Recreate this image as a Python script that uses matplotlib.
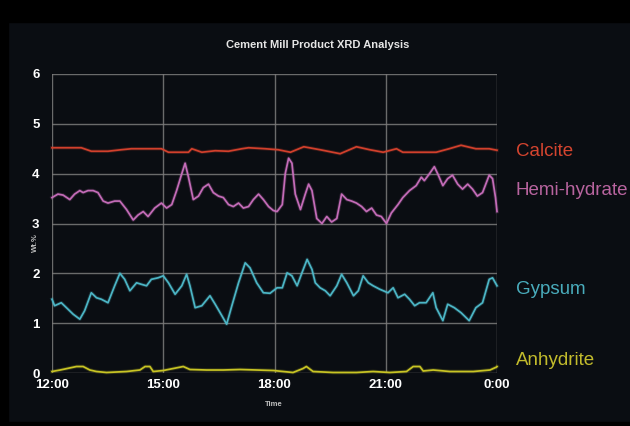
import matplotlib
matplotlib.use("Agg")
import matplotlib.pyplot as plt
from matplotlib.patches import Rectangle

# -----------------------------
# Data (hours after 12:00, wt.%)
# -----------------------------
calcite_h = [0, 0.79, 1.06, 1.51, 1.87, 2.14, 2.95, 3.14, 3.68, 3.77, 4.04, 4.40, 4.76,
             5.12, 5.30, 5.75, 6.10, 6.43, 6.79, 7.23, 7.77, 8.21, 8.57, 8.93, 9.29,
             9.46, 9.91, 10.36, 10.71, 11.03, 11.43, 11.79, 12.0]
calcite = [4.52, 4.52, 4.45, 4.45, 4.48, 4.50, 4.50, 4.43, 4.43, 4.50, 4.43, 4.46, 4.45,
           4.50, 4.52, 4.50, 4.48, 4.43, 4.54, 4.48, 4.40, 4.54, 4.48, 4.43, 4.50,
           4.43, 4.43, 4.43, 4.50, 4.57, 4.50, 4.50, 4.47]

hemi_h = [0, 0.16, 0.30, 0.48, 0.61, 0.75, 0.84, 0.97, 1.11, 1.24, 1.38, 1.51, 1.69, 1.83,
          2.01, 2.19, 2.32, 2.46, 2.59, 2.77, 2.95, 3.09, 3.23, 3.36, 3.50, 3.59, 3.68,
          3.81, 3.95, 4.08, 4.22, 4.35, 4.49, 4.62, 4.76, 4.89, 5.03, 5.16, 5.30, 5.43,
          5.57, 5.70, 5.84, 5.97, 6.07, 6.21, 6.29, 6.38, 6.47, 6.56, 6.70, 6.83, 6.92,
          7.01, 7.14, 7.28, 7.41, 7.54, 7.68, 7.81, 7.95, 8.08, 8.21, 8.35, 8.48, 8.62,
          8.75, 8.88, 9.02, 9.15, 9.33, 9.46, 9.64, 9.82, 9.96, 10.04, 10.18, 10.31,
          10.40, 10.54, 10.67, 10.80, 10.94, 11.07, 11.21, 11.34, 11.47, 11.61, 11.79,
          11.88, 11.96, 12.0]
hemi = [3.52, 3.59, 3.57, 3.48, 3.59, 3.66, 3.62, 3.66, 3.66, 3.62, 3.45, 3.41, 3.45, 3.45,
        3.28, 3.07, 3.17, 3.24, 3.14, 3.31, 3.41, 3.31, 3.38, 3.66, 4.00, 4.21, 3.93,
        3.48, 3.55, 3.72, 3.79, 3.62, 3.55, 3.52, 3.38, 3.34, 3.41, 3.31, 3.34, 3.48,
        3.59, 3.48, 3.34, 3.26, 3.24, 3.38, 4.00, 4.31, 4.21, 3.59, 3.28, 3.59, 3.79,
        3.66, 3.10, 3.00, 3.14, 3.03, 3.10, 3.59, 3.48, 3.45, 3.41, 3.34, 3.24, 3.31,
        3.17, 3.14, 3.00, 3.21, 3.38, 3.52, 3.66, 3.76, 3.93, 3.86, 4.00, 4.14,
        4.00, 3.76, 3.90, 3.97, 3.79, 3.69, 3.79, 3.69, 3.55, 3.62, 3.97,
        3.90, 3.52, 3.24]

gypsum_h = [0, 0.07, 0.25, 0.39, 0.57, 0.75, 0.88, 1.06, 1.20, 1.33, 1.51, 1.69, 1.83,
            1.96, 2.10, 2.28, 2.41, 2.55, 2.68, 2.86, 3.00, 3.14, 3.32, 3.50, 3.63, 3.72,
            3.86, 4.04, 4.26, 4.40, 4.58, 4.71, 4.85, 5.03, 5.21, 5.34, 5.52, 5.70, 5.88,
            6.07, 6.21, 6.34, 6.47, 6.61, 6.74, 6.88, 7.01, 7.10, 7.23, 7.37, 7.50, 7.68,
            7.81, 7.95, 8.13, 8.26, 8.39, 8.53, 8.66, 8.84, 9.06, 9.20, 9.33, 9.51, 9.64,
            9.78, 9.91, 10.09, 10.27, 10.36, 10.54, 10.67, 10.85, 11.03, 11.25, 11.43,
            11.61, 11.79, 11.88, 12.0]
gypsum = [1.48, 1.35, 1.41, 1.31, 1.18, 1.08, 1.25, 1.61, 1.51, 1.48, 1.41, 1.75, 2.00,
          1.88, 1.65, 1.81, 1.78, 1.75, 1.88, 1.91, 1.95, 1.81, 1.58, 1.75, 1.98, 1.75,
          1.31, 1.35, 1.55, 1.38, 1.15, 0.98, 1.35, 1.81, 2.21, 2.11, 1.81, 1.61, 1.60,
          1.71, 1.71, 2.01, 1.95, 1.75, 2.01, 2.28, 2.08, 1.81, 1.71, 1.65, 1.55, 1.75,
          1.98, 1.81, 1.55, 1.65, 1.95, 1.81, 1.75, 1.68, 1.61, 1.71, 1.51, 1.58, 1.48,
          1.35, 1.41, 1.41, 1.61, 1.31, 1.05, 1.38, 1.31, 1.21, 1.05, 1.31,
          1.41, 1.88, 1.91, 1.75]

anhydrite_h = [0, 0.22, 0.66, 0.84, 1.02, 1.20, 1.47, 2.01, 2.37, 2.51, 2.64, 2.73, 3.00,
               3.27, 3.54, 3.72, 4.17, 4.62, 5.07, 5.52, 5.97, 6.50, 6.77, 6.86, 7.04,
               7.58, 8.21, 8.66, 9.11, 9.56, 9.74, 9.92, 10.01, 10.28, 10.73, 11.36,
               11.81, 11.99, 12.0]
anhydrite = [0.03, 0.06, 0.13, 0.13, 0.06, 0.03, 0.01, 0.03, 0.06, 0.13, 0.13, 0.03, 0.05,
             0.09, 0.13, 0.07, 0.06, 0.06, 0.07, 0.06, 0.05, 0.01, 0.09, 0.13, 0.03,
             0.01, 0.01, 0.03, 0.01, 0.03, 0.13, 0.13, 0.04, 0.06, 0.03, 0.03,
             0.06, 0.12, 0.13]

x_ticks = [0, 3, 6, 9, 12]
x_labels = ["12:00", "15:00", "18:00", "21:00", "0:00"]
y_ticks = [0, 1, 2, 3, 4, 5, 6]

names = ["Calcite", "Hemi-hydrate", "Gypsum", "Anhydrite"]
label_y = [4.45, 3.67, 1.67, 0.26]
line_colors = ["#d2402c", "#c46cb8", "#4cb6c6", "#c8c424"]
text_colors = ["#d4442f", "#b8649f", "#49acbc", "#c2bb2c"]

BG = "#0a0d12"
FONT = "Liberation Sans"

# -----------------------------
# Figure
# -----------------------------
fig = plt.figure(figsize=(6.3, 4.26), dpi=100, facecolor=BG)
# black frame bands of the original screenshot
fig.patches.append(Rectangle((0, 1 - 22 / 426), 1, 22 / 426, transform=fig.transFigure,
                             color="black", zorder=0))
fig.patches.append(Rectangle((0, 0), 8 / 630, 1, transform=fig.transFigure,
                             color="black", zorder=0))
fig.patches.append(Rectangle((0, 0), 1, 4 / 426, transform=fig.transFigure,
                             color="black", zorder=0))

ax = fig.add_axes([52 / 630, 1 - 373 / 426, 445 / 630, 299 / 426])
ax.set_facecolor(BG)

series = [(calcite_h, calcite), (hemi_h, hemi), (gypsum_h, gypsum), (anhydrite_h, anhydrite)]
for (h, v), c in zip(series, line_colors):
    ax.plot(h, v, color=c, lw=2.6, alpha=0.2, solid_joinstyle="round", clip_on=False)
    ax.plot(h, v, color=c, lw=1.25, solid_joinstyle="round", clip_on=False)

ax.set_xlim(0, 12)
ax.set_ylim(0, 6)
ax.set_xticks(x_ticks)
ax.set_xticklabels(x_labels)
ax.set_yticks(y_ticks)
ax.grid(True, color="#7c7c7c", lw=1.0, alpha=0.85)
ax.set_axisbelow(True)
for s in ax.spines.values():
    s.set_visible(False)
ax.tick_params(length=0, colors="white", labelsize=9.5, pad=4)
for lab in ax.get_xticklabels() + ax.get_yticklabels():
    lab.set_fontfamily(FONT)
    lab.set_fontweight("bold")
ax.tick_params(axis="y", pad=9)

# series labels on the right
for name, yv, c in zip(names, label_y, text_colors):
    ax.text(12.5, yv, name, color=c, fontsize=13.5, fontfamily=FONT,
            va="center", ha="left", clip_on=False)

fig.text(0.505, 1 - 45 / 426, "Cement Mill Product XRD Analysis", color="#e6e6e6",
         fontsize=8, fontweight="bold", fontfamily=FONT, ha="center", va="center")
fig.text(274 / 630, 1 - 405 / 426, "Time", color="#bfbfbf", fontsize=5.5,
         fontweight="bold", fontfamily=FONT, ha="center", va="center")
fig.text(35 / 630, 1 - 243 / 426, "Wt.%", color="#bfbfbf", fontsize=5.5,
         fontweight="bold", fontfamily=FONT, ha="center", va="center", rotation=90)

fig.savefig("out.png", dpi=100, facecolor=BG)
